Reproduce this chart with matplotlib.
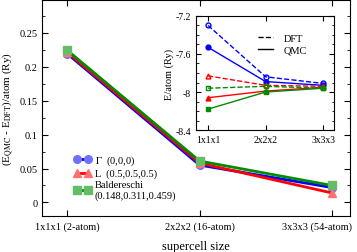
"""
Сходимость поправки QMC - DFT по размеру суперячейки (основной график + вставка).
"""

import matplotlib

matplotlib.use("Agg")
import matplotlib.pyplot as plt
import matplotlib.transforms as mtransforms
from matplotlib.ticker import MultipleLocator

plt.rcParams["font.family"] = ["Liberation Serif", "DejaVu Serif"]
plt.rcParams["mathtext.fontset"] = "stix"

# Данные основного графика
cells = ["1x1x1 (2-atom)", "2x2x2 (16-atom)", "3x3x3 (54-atom)"]
cells_short = ["1x1x1", "2x2x2", "3x3x3"]
gamma_diff = [0.219, 0.055, 0.022]
l_diff = [0.221, 0.058, 0.014]
bald_diff = [0.224, 0.061, 0.025]

# Данные вставки (энергия на атом, Ry)
gamma_dft = [-7.30, -7.84, -7.91]
gamma_qmc = [-7.53, -7.89, -7.93]
l_dft = [-7.83, -7.93, -7.94]
l_qmc = [-8.06, -7.99, -7.95]
bald_dft = [-7.96, -7.94, -7.96]
bald_qmc = [-8.18, -8.00, -7.96]

colors = {"blue": "#0000ff", "red": "#ff0000", "green": "#008c00"}
faces = {"blue": "#7070ff", "red": "#ff7070", "green": "#66bb66"}

fig = plt.figure(figsize=(3.57, 2.53), dpi=100)
ax = fig.add_axes((0.118, 0.142, 0.862, 0.854))

x = range(len(cells))
series = [
    (gamma_diff, "blue", "o", r"$\Gamma$  (0,0,0)"),
    (l_diff, "red", "^", "L  (0.5,0.5,0.5)"),
    (bald_diff, "green", "s", "Baldereschi\n(0.148,0.311,0.459)"),
]
for vals, c, m, lab in series:
    ax.plot(
        x,
        vals,
        color=colors[c],
        marker=m,
        markersize=5.5,
        markerfacecolor=faces[c],
        markeredgecolor=faces[c],
        linewidth=2,
        label=lab,
    )

ax.set_xlim(-0.19, 2.135)
ax.set_ylim(-0.02, 0.298)
ax.set_xticks(list(x))
ax.set_xticklabels(cells)
ax.yaxis.set_minor_locator(MultipleLocator(0.025))
ax.set_yticks([0, 0.05, 0.1, 0.15, 0.2, 0.25])
ax.set_yticklabels(["0", "0.05", "0.1", "0.15", "0.2", "0.25"])
ax.tick_params(which="both", direction="in", top=True, right=True, labelsize=7.5)
ax.tick_params(which="major", length=4)
ax.tick_params(which="minor", length=2)
ax.set_xlabel("supercell size", fontsize=9, labelpad=7)
ax.set_ylabel(r"(E$_{\rm QMC}$ - E$_{\rm DFT}$)/atom (Ry)", fontsize=8, labelpad=3)

# последняя подпись сдвинута влево, чтобы не выходить за край
last = ax.get_xticklabels()[-1]
last.set_transform(last.get_transform() + mtransforms.ScaledTranslation(-0.15, 0, fig.dpi_scale_trans))

ax.legend(
    loc="lower left",
    bbox_to_anchor=(0.08, 0.04),
    frameon=False,
    fontsize=7.5,
    numpoints=2,
    handlelength=1.6,
    handletextpad=0.4,
    labelspacing=0.15,
    borderpad=0.2,
)

# Вставка
ins = fig.add_axes((0.549, 0.482, 0.387, 0.451))
xi = range(len(cells_short))
for dft, qmc, c, m in [
    (gamma_dft, gamma_qmc, "blue", "o"),
    (l_dft, l_qmc, "red", "^"),
    (bald_dft, bald_qmc, "green", "s"),
]:
    ins.plot(xi, dft, color=colors[c], linestyle="--", linewidth=1, marker=m, markersize=3.5,
             markerfacecolor="none", markeredgecolor=colors[c])
    ins.plot(xi, qmc, color=colors[c], linestyle="-", linewidth=1, marker=m, markersize=3.5,
             markerfacecolor=colors[c], markeredgecolor=colors[c])

ins.plot([], [], color="black", linestyle="--", linewidth=1, label="DFT")
ins.plot([], [], color="black", linestyle="-", linewidth=1, label="QMC")
ins.legend(
    loc="upper left",
    bbox_to_anchor=(0.40, 0.90),
    frameon=False,
    fontsize=7.5,
    handlelength=1.5,
    handletextpad=1.0,
    labelspacing=0.2,
    borderpad=0.1,
)

ins.set_xlim(-0.21, 2.19)
ins.set_ylim(-8.4, -7.2)
ins.set_xticks(list(xi))
ins.set_xticklabels(cells_short)
ins.set_yticks([-8.4, -8.0, -7.6, -7.2])
ins.set_yticklabels(["-8.4", "-8", "-7.6", "-7.2"])
ins.yaxis.set_minor_locator(MultipleLocator(0.1))
ins.tick_params(which="both", direction="in", top=True, right=True, labelsize=7)
ins.tick_params(which="major", length=3.5)
ins.tick_params(which="minor", length=1.8)
ins.set_ylabel("E/atom (Ry)", fontsize=7.5, labelpad=1)

fig.savefig("out.png", dpi=100)
